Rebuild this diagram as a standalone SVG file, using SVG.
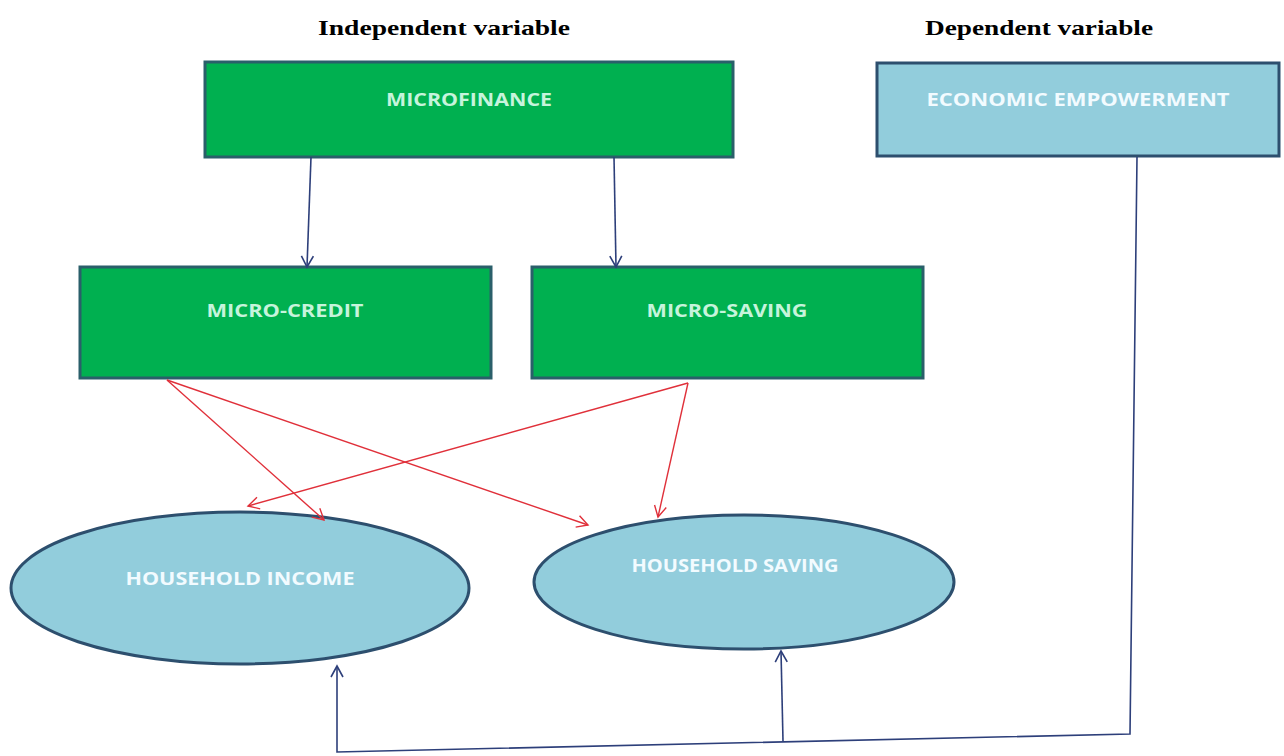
<svg xmlns="http://www.w3.org/2000/svg" width="1284" height="756" viewBox="0 0 1284 756">
<style>
.title{font-family:"Liberation Serif",serif;font-weight:bold;font-size:21px;fill:#000}
.lbl{font-family:"Open Sans","Liberation Sans",sans-serif;font-weight:bold;font-size:18px;text-anchor:middle}
.g{fill:#00b050;stroke:#2a5f6a;stroke-width:3}
.b{fill:#92cddc;stroke:#2d4f6e;stroke-width:3}
.gt{fill:#c6f4dc}
.bt{fill:#f2fbff}
.nv{fill:none;stroke:#2d3f7a;stroke-width:1.6}
.rd{fill:none;stroke:#e0303a;stroke-width:1.4}
</style>
<defs>
<marker id="an" markerWidth="14" markerHeight="14" refX="12" refY="7" orient="auto" markerUnits="userSpaceOnUse">
<path d="M1,1 L12,7 L1,13" fill="none" stroke="#2d3f7a" stroke-width="1.6"/>
</marker>
<marker id="ar" markerWidth="14" markerHeight="14" refX="12" refY="7" orient="auto" markerUnits="userSpaceOnUse">
<path d="M1,1 L12,7 L1,13" fill="none" stroke="#e0303a" stroke-width="1.4"/>
</marker>
</defs>
<rect width="1284" height="756" fill="#fff"/>
<text class="title" x="318" y="35" textLength="252" lengthAdjust="spacingAndGlyphs">Independent variable</text>
<text class="title" x="925" y="35" textLength="228" lengthAdjust="spacingAndGlyphs">Dependent variable</text>
<g id="microfinance">
<rect class="g" x="205" y="62" width="528" height="95"/>
<text class="lbl gt" x="469" y="106" textLength="166" lengthAdjust="spacingAndGlyphs">MICROFINANCE</text>
</g>
<g id="economic-empowerment">
<rect class="b" x="877" y="63" width="402" height="93"/>
<text class="lbl bt" x="1078" y="106" textLength="303" lengthAdjust="spacingAndGlyphs">ECONOMIC EMPOWERMENT</text>
</g>
<g id="micro-credit">
<rect class="g" x="80" y="267" width="411" height="111"/>
<text class="lbl gt" x="285" y="317" textLength="157" lengthAdjust="spacingAndGlyphs">MICRO-CREDIT</text>
</g>
<g id="micro-saving">
<rect class="g" x="532" y="267" width="391" height="111"/>
<text class="lbl gt" x="727" y="317" textLength="161" lengthAdjust="spacingAndGlyphs">MICRO-SAVING</text>
</g>
<g id="household-income">
<ellipse class="b" cx="240" cy="588" rx="229" ry="76"/>
<text class="lbl bt" x="240" y="585" textLength="229" lengthAdjust="spacingAndGlyphs">HOUSEHOLD INCOME</text>
</g>
<g id="household-saving">
<ellipse class="b" cx="744" cy="582" rx="210" ry="67"/>
<text class="lbl bt" x="735" y="572" textLength="207" lengthAdjust="spacingAndGlyphs">HOUSEHOLD SAVING</text>
</g>
<g id="connectors">
<path class="nv" d="M311,157 L307,267" marker-end="url(#an)"/>
<path class="nv" d="M614,157 L616,267" marker-end="url(#an)"/>
<path class="rd" d="M167,380 L324,520" marker-end="url(#ar)"/>
<path class="rd" d="M167,380 L588,525" marker-end="url(#ar)"/>
<path class="rd" d="M688,383 L248,506" marker-end="url(#ar)"/>
<path class="rd" d="M688,383 L658,517" marker-end="url(#ar)"/>
<path class="nv" d="M1137,157 L1130,734 L337,752 L337,666" marker-end="url(#an)"/>
<path class="nv" d="M783,741 L781,651" marker-end="url(#an)"/>
</g>
</svg>
